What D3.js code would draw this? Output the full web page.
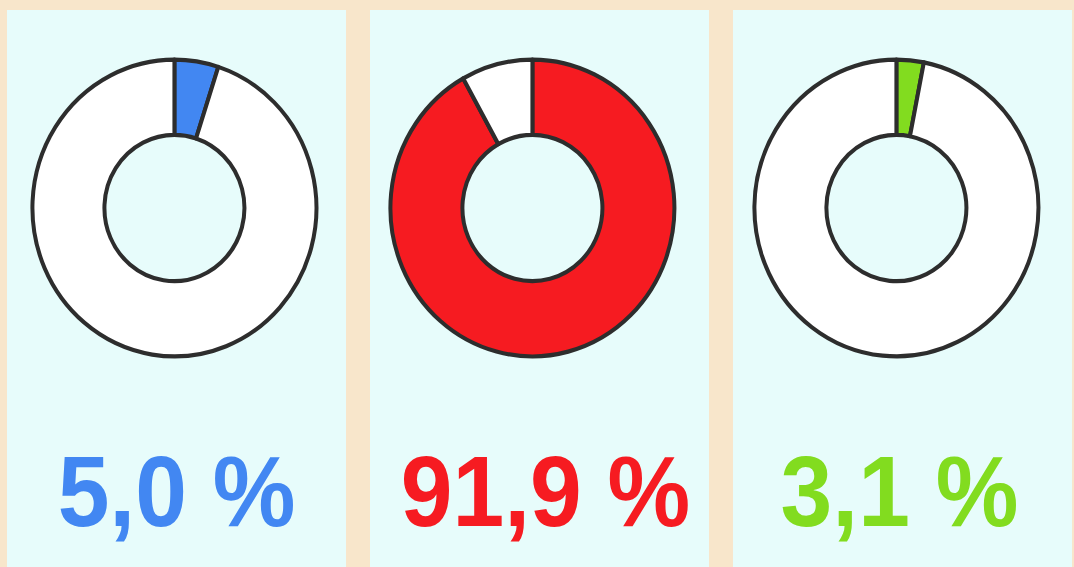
<!DOCTYPE html>
<html>
<head>
<meta charset="utf-8">
<title>Donuts</title>
<script src="https://cdn.jsdelivr.net/npm/d3@7"></script>
<style>
  body { margin: 0; background: #f8e6cb; overflow: hidden; }
  svg { display: block; }
  .lbl { font-family: "Liberation Sans", Arial, sans-serif; font-weight: bold; }
</style>
</head>
<body>
<svg id="chart" width="1074" height="567"></svg>
<script>
// data
var labels = ["5,0 %", "91,9 %", "3,1 %"];
var values = [5.0, 91.9, 3.1];
var colors = ["#4287f2", "#f61b21", "#82dc1f"];

var svg = d3.select("#chart"),
    width = +svg.attr("width"),
    height = +svg.attr("height");

var x = d3.scaleBand()
    .domain(d3.range(values.length))
    .range([7, 1072])
    .paddingInner(0.066)
    .paddingOuter(0);

var outerR = 142, innerR = 70;
// small per-panel nudges so the rings sit where the original has them
var dx = [3, -2, -1], dtx = [0, 6, -3];

var pie = d3.pie().sort(null).value(function(d) { return d; });
var arc = d3.arc().innerRadius(innerR).outerRadius(outerR);

var panel = svg.selectAll("g.panel")
    .data(values)
    .enter().append("g")
      .attr("class", "panel")
      .attr("transform", function(d, i) { return "translate(" + x(i) + ",0)"; });

panel.append("rect")
    .attr("y", 10)
    .attr("width", x.bandwidth())
    .attr("height", height)
    .attr("fill", "#e7fcfb");

var donut = panel.append("g")
    .attr("transform", function(d, i) { return "translate(" + (x.bandwidth() * 0.485 + dx[i]) + ",208) scale(1,1.045)"; });

donut.selectAll("path")
    .data(function(d, i) {
      return pie([d, 100 - d]).map(function(a, j) { a.col = j === 0 ? colors[i] : "#ffffff"; return a; });
    })
    .enter().append("path")
      .attr("d", arc)
      .attr("fill", function(d) { return d.col; })
      .attr("stroke", "#2d2d2d")
      .attr("stroke-width", 4)
      .attr("stroke-linejoin", "round");

panel.append("text")
    .attr("class", "lbl")
    .attr("transform", function(d, i) { return "translate(" + (x.bandwidth() / 2 + dtx[i]) + ",526) scale(1,1.08)"; })
    .attr("text-anchor", "middle")
    .attr("font-size", 93)
    .attr("fill", function(d, i) { return colors[i]; })
    .text(function(d, i) { return labels[i]; });
</script>
</body>
</html>
